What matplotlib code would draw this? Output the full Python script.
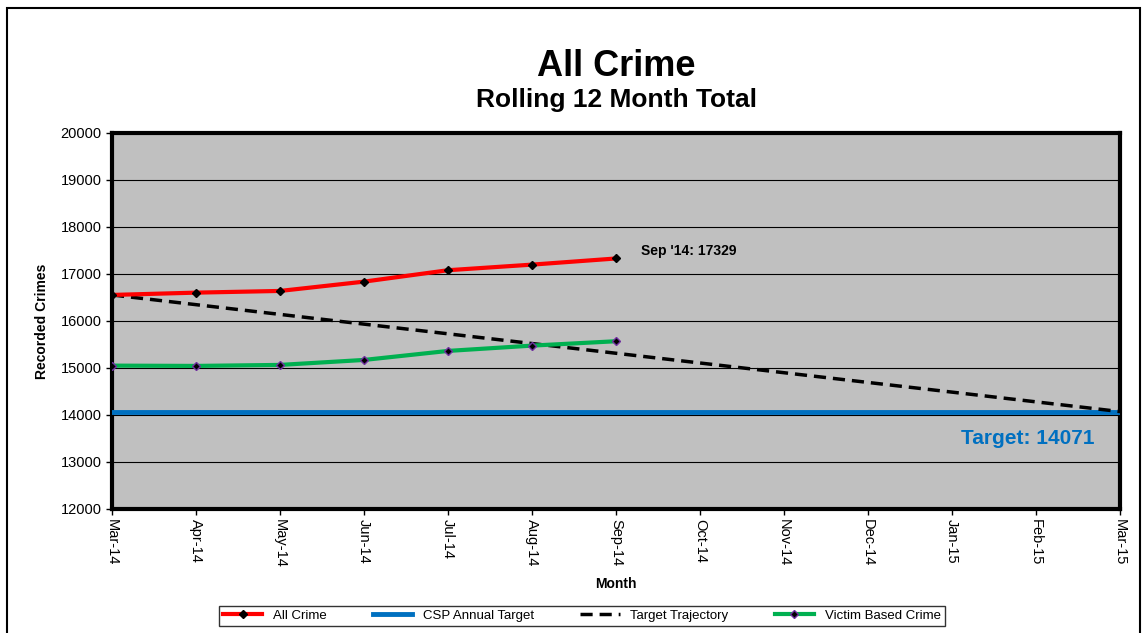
import numpy as np
import matplotlib.pyplot as plt
from matplotlib.patches import Rectangle

plt.rcParams['font.family'] = ['Liberation Sans', 'DejaVu Sans']

# Data
months = ['Mar-14', 'Apr-14', 'May-14', 'Jun-14', 'Jul-14', 'Aug-14', 'Sep-14',
          'Oct-14', 'Nov-14', 'Dec-14', 'Jan-15', 'Feb-15', 'Mar-15']
all_crime = [16553, 16602, 16638, 16836, 17079, 17198, 17329]
victim_crime = [15049, 15043, 15064, 15170, 15362, 15475, 15568]
csp_target = [14071] * 13
trajectory = [16553, 16346, 16139, 15932, 15726, 15519, 15312,
              15105, 14898, 14691, 14485, 14278, 14071]

x_all = np.arange(len(months))
x_part = np.arange(len(all_crime))

fig = plt.figure(figsize=(11.43, 6.33), dpi=100)
ax = fig.add_axes([0.098, 0.196, 0.882, 0.594])

# outer chart border
fig.patches.append(Rectangle((0.006, -0.01), 0.991, 0.997, transform=fig.transFigure,
                             fill=False, edgecolor='black', linewidth=1.5))

ax.set_facecolor('#C0C0C0')
ax.grid(axis='y', color='black', linewidth=0.8)
ax.set_axisbelow(True)

ax.plot(x_part, all_crime, color='red', linewidth=3, marker='D', markersize=4,
        markerfacecolor='black', markeredgecolor='black', label='All Crime', zorder=4)
ax.plot(x_all, csp_target, color='#0070C0', linewidth=3.5, label='CSP Annual Target', zorder=3)
ax.plot(x_all, trajectory, color='black', linewidth=2.5, linestyle=(0, (3.5, 2)),
        label='Target Trajectory', zorder=3)
ax.plot(x_part, victim_crime, color='#00B050', linewidth=3, marker='D', markersize=4,
        markerfacecolor='black', markeredgecolor='#7030A0', label='Victim Based Crime', zorder=4)

ax.set_xlim(0, 12)
ax.set_ylim(12000, 20000)
ax.set_yticks(range(12000, 20001, 1000))
ax.set_xticks(x_all)
ax.set_xticklabels(months, rotation=-90, fontsize=10.5)
ax.tick_params(axis='y', labelsize=10.5)
ax.tick_params(direction='out', length=4, width=1)

for s in ax.spines.values():
    s.set_linewidth(3)

ax.set_xlabel('Month', fontsize=10, fontweight='bold', labelpad=6)
ax.set_ylabel('Recorded Crimes', fontsize=10, fontweight='bold', labelpad=8)

ax.annotate("Sep '14: 17329", xy=(x_part[-1], all_crime[-1]), xytext=(18, 0),
            textcoords='offset points', fontsize=10, fontweight='bold', va='bottom')
ax.text(11.7, 13500, 'Target: 14071', color='#0070C0', fontsize=15, fontweight='bold',
        ha='right', va='center')

fig.text(0.539, 0.895, 'All Crime', ha='center', va='center', fontsize=26, fontweight='bold')
fig.text(0.539, 0.842, 'Rolling 12 Month Total', ha='center', va='center', fontsize=19,
         fontweight='bold')

leg = fig.legend(loc='center', bbox_to_anchor=(0.509, 0.027), ncol=4, fontsize=9.5,
                 frameon=True, fancybox=False, edgecolor='black', handlelength=3,
                 columnspacing=3.5, borderpad=0.3, borderaxespad=0)
leg.get_frame().set_linewidth(1)

fig.savefig('out.png', dpi=100)
